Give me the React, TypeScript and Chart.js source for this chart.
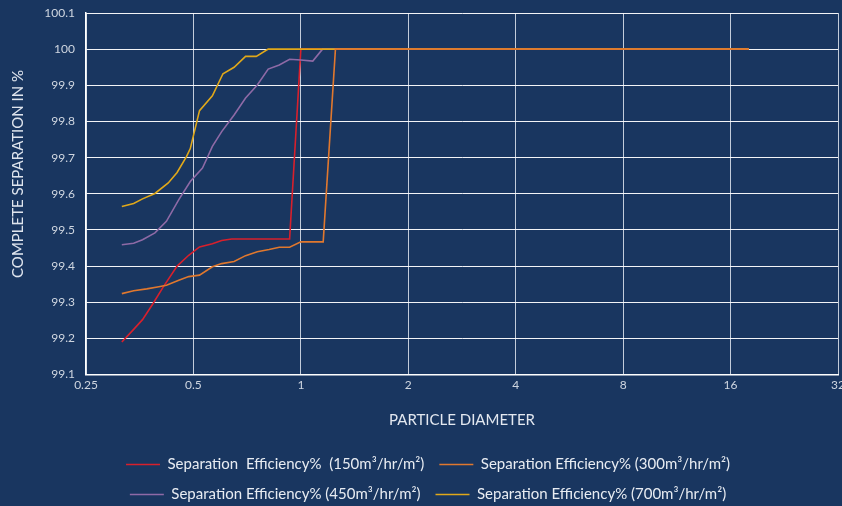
import React, { useEffect, useRef } from "react";
import { Chart, registerables } from "chart.js";

Chart.register(...registerables);

const FONT = "Lato, 'Open Sans', sans-serif";
const BG = "#193660";

const xTicks = [0.25, 0.5, 1, 2, 4, 8, 16, 32];
const yMin = 99.1;
const yMax = 100.1;

const seriesLabels = [
  "Separation  Efficiency%  (150m³/hr/m²)",
  "Separation Efficiency% (300m³/hr/m²)",
  "Separation Efficiency% (450m³/hr/m²)",
  "Separation Efficiency% (700m³/hr/m²)",
];
const seriesColors = ["#d8202c", "#e0782e", "#8e6aa6", "#e0a81a"];

const s150X = [0.315, 0.34, 0.36, 0.385, 0.41, 0.45, 0.485, 0.52, 0.565, 0.6, 0.64, 0.93, 1.0, 18];
const s150Y = [99.19, 99.225, 99.252, 99.296, 99.34, 99.4, 99.43, 99.453, 99.462, 99.471, 99.475, 99.475, 100, 100];

const s300X = [0.315, 0.34, 0.37, 0.4, 0.42, 0.455, 0.485, 0.52, 0.565, 0.6, 0.65, 0.7, 0.755, 0.815, 0.87, 0.93, 1.0, 1.155, 1.25, 18];
const s300Y = [99.324, 99.332, 99.337, 99.343, 99.347, 99.361, 99.371, 99.375, 99.398, 99.407, 99.413, 99.429, 99.44, 99.446, 99.452, 99.452, 99.467, 99.467, 100, 100];

const s450X = [0.315, 0.34, 0.36, 0.39, 0.42, 0.455, 0.49, 0.53, 0.545, 0.565, 0.6, 0.65, 0.7, 0.755, 0.81, 0.87, 0.93, 1.0, 1.08, 1.15, 18];
const s450Y = [99.459, 99.463, 99.473, 99.492, 99.524, 99.584, 99.634, 99.671, 99.697, 99.731, 99.772, 99.818, 99.865, 99.901, 99.945, 99.956, 99.972, 99.97, 99.967, 100, 100];

const s700X = [0.315, 0.34, 0.36, 0.39, 0.425, 0.45, 0.478, 0.49, 0.52, 0.565, 0.605, 0.65, 0.7, 0.75, 0.81, 18];
const s700Y = [99.565, 99.573, 99.586, 99.601, 99.63, 99.659, 99.703, 99.725, 99.83, 99.871, 99.932, 99.95, 99.98, 99.98, 100, 100];

const seriesX = [s150X, s300X, s450X, s700X];
const seriesY = [s150Y, s300Y, s450Y, s700Y];
const drawOrder = [3, 0, 2, 1];

const X_TITLE = "PARTICLE DIAMETER";
const Y_TITLE = "COMPLETE SEPARATION IN %";

const yTitlePlugin = {
  id: "yTitleCustom",
  afterDraw(chart: any) {
    const { ctx, chartArea } = chart;
    ctx.save();
    ctx.translate(18, chartArea.top + chartArea.height * 0.445);
    ctx.rotate(-Math.PI / 2);
    ctx.textAlign = "center";
    ctx.textBaseline = "middle";
    ctx.font = "15px " + FONT;
    ctx.fillStyle = "#dfe5ee";
    ctx.fillText(Y_TITLE, 0, 0);
    ctx.restore();
  },
};

export default function App() {
  const ref = useRef<HTMLCanvasElement>(null);
  useEffect(() => {
    if (!ref.current) return;
    const datasets = seriesLabels.map((label, i) => ({
      label,
      data: seriesX[i].map((x, j) => ({ x, y: seriesY[i][j] })),
      borderColor: seriesColors[i],
      backgroundColor: seriesColors[i],
      borderWidth: 1.6,
      pointRadius: 0,
      pointStyle: "line",
      tension: 0,
      fill: false,
      order: drawOrder[i],
    }));
    const chart = new Chart(ref.current, {
      type: "line",
      data: { datasets },
      plugins: [yTitlePlugin],
      options: {
        animation: false,
        responsive: false,
        layout: { padding: { left: 18, right: 12, top: 13, bottom: 4 } },
        scales: {
          x: {
            type: "logarithmic",
            min: 0.25,
            max: 32,
            afterBuildTicks: (scale: any) => {
              scale.ticks = xTicks.map((v) => ({ value: v }));
            },
            ticks: {
              color: "#cfd6e0",
              font: { family: FONT, size: 12 },
              padding: 3,
              autoSkip: false,
              maxRotation: 0,
              callback: (v: any) => String(v),
            },
            grid: { color: "rgba(225,230,240,0.85)", lineWidth: 1, drawTicks: false },
            border: { color: "#ffffff", width: 1.5 },
            title: {
              display: true,
              text: X_TITLE,
              color: "#e3e8f0",
              font: { family: FONT, size: 15 },
              padding: { top: 16, bottom: 13 },
            },
          },
          y: {
            type: "linear",
            min: yMin,
            max: yMax,
            afterFit: (scale: any) => {
              scale.width = 68;
              scale.paddingTop = 0;
            },
            ticks: {
              stepSize: 0.1,
              color: "#cfd6e0",
              font: { family: FONT, size: 12 },
              padding: 11,
              callback: (v: any) => String(Number(Number(v).toFixed(1))),
            },
            grid: { color: "rgba(255,255,255,0.95)", lineWidth: 1, drawTicks: false },
            border: { color: "#ffffff", width: 1.5 },
          },
        },
        plugins: {
          legend: {
            position: "bottom",
            labels: {
              color: "#e8ecf2",
              font: { family: FONT, size: 15 },
              usePointStyle: true,
              pointStyleWidth: 34,
              padding: 15,
              sort: (a: any, b: any) => a.datasetIndex - b.datasetIndex,
            },
          },
          tooltip: { enabled: false },
        },
      },
    } as any);
    return () => chart.destroy();
  }, []);
  return (
    <div style={{ position: "fixed", left: 0, top: 0, width: 842, height: 506, overflow: "hidden", background: BG }}>
      <canvas ref={ref} width={850} height={516} style={{ display: "block", width: 850, height: 516 }} />
    </div>
  );
}
